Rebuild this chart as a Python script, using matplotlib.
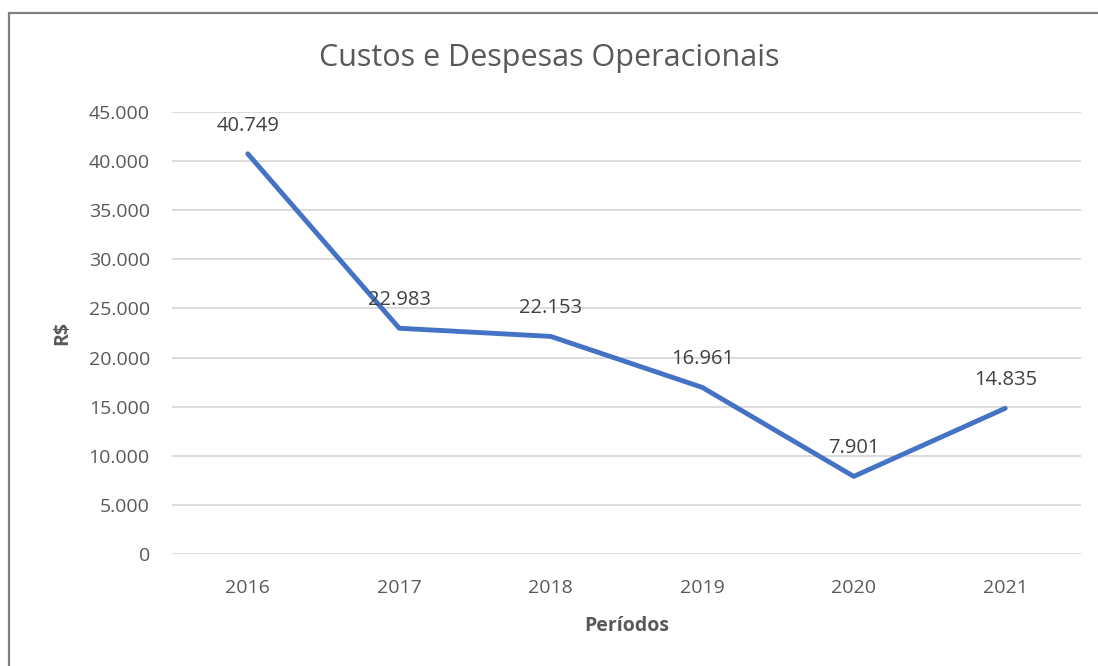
import matplotlib.pyplot as plt
from matplotlib.patches import Rectangle
from matplotlib.ticker import FuncFormatter

plt.rcParams['font.family'] = ['Open Sans', 'DejaVu Sans']

anos = ['2016', '2017', '2018', '2019', '2020', '2021']
custos = [40749, 22983, 22153, 16961, 7901, 14835]
rotulos = ['40.749', '22.983', '22.153', '16.961', '7.901', '14.835']
y_ticks = [0, 5000, 10000, 15000, 20000, 25000, 30000, 35000, 40000, 45000]

fig = plt.figure(figsize=(10.98, 6.66), dpi=100)
ax = fig.add_axes([172 / 1098, 1 - 554 / 666, (1081 - 172) / 1098, (554 - 112) / 666])

# moldura cinza (só topo e esquerda aparecem)
fig.patches.append(Rectangle((8.5 / 1098, -0.1), 1.2, 1.1 - 13.5 / 666,
                             transform=fig.transFigure, fill=False,
                             edgecolor='#808080', linewidth=1.6))

x = list(range(len(anos)))
ax.plot(x, custos, color='#4472C4', linewidth=3.5, solid_capstyle='round', zorder=3)

for xi, v, txt in zip(x, custos, rotulos):
    ax.annotate(txt, (xi, v), xytext=(0, 13), textcoords='offset points',
                ha='center', va='bottom', fontsize=14.5, color='#404040')

ax.set_xlim(-0.5, 5.5)
ax.set_ylim(0, 45000)
ax.set_yticks(y_ticks)
ax.yaxis.set_major_formatter(FuncFormatter(lambda v, p: f'{int(v):,}'.replace(',', '.')))
ax.set_xticks(x)
ax.set_xticklabels(anos)
ax.grid(axis='y', color='#d9d9d9', linewidth=1.3)
ax.set_axisbelow(True)
for s in ax.spines.values():
    s.set_visible(False)
ax.tick_params(length=0, labelsize=14, labelcolor='#595959')
ax.tick_params(axis='y', pad=16)
ax.tick_params(axis='x', pad=18)

ax.set_ylabel('R$', fontsize=14, fontweight='bold', color='#595959', labelpad=12)
ax.set_xlabel('Períodos', fontsize=14, fontweight='bold', color='#595959', labelpad=14)
fig.text(0.5, 1 - 58 / 666, 'Custos e Despesas Operacionais', fontsize=22,
         color='#595959', ha='center', va='center')

fig.savefig('out.png', dpi=100)
